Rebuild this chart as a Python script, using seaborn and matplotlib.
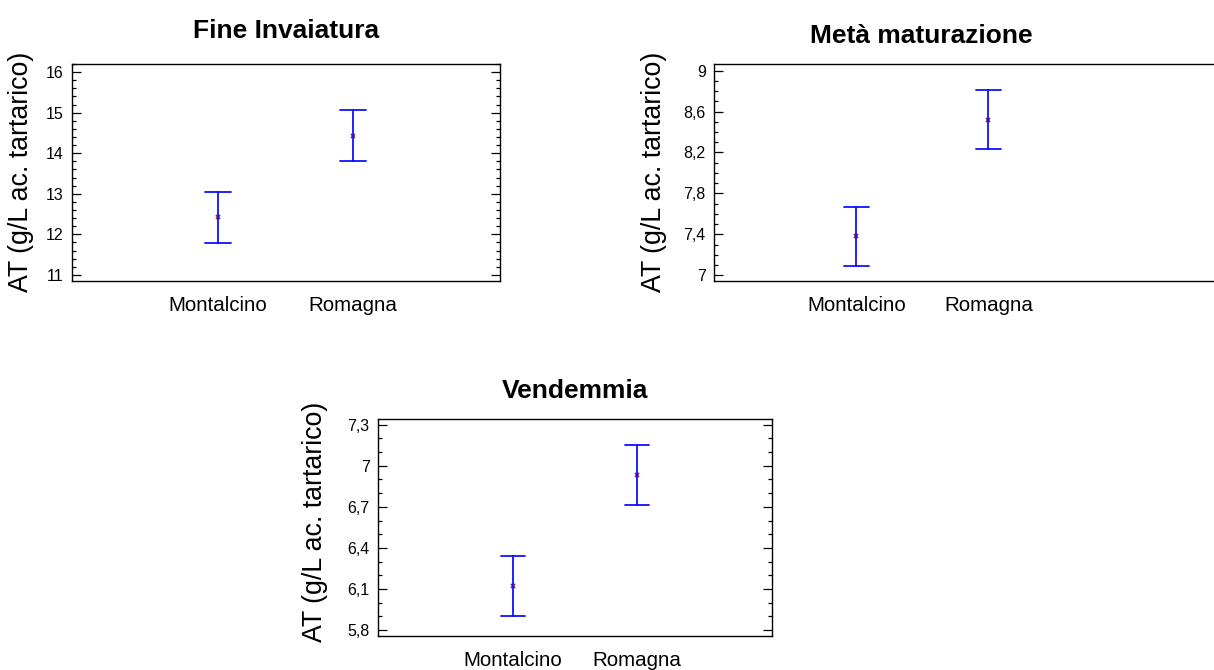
import matplotlib
matplotlib.use("Agg")
import matplotlib.pyplot as plt
from matplotlib.ticker import FixedLocator, MultipleLocator, FuncFormatter
import seaborn as sns
import pandas as pd

# ---- data ----
categories = ["Montalcino", "Romagna"]

fine_mean = [12.42, 14.43]
fine_lo = [11.79, 13.80]
fine_hi = [13.05, 15.06]

meta_mean = [7.38, 8.52]
meta_lo = [7.09, 8.23]
meta_hi = [7.67, 8.81]

vend_mean = [6.12, 6.93]
vend_lo = [5.90, 6.71]
vend_hi = [6.34, 7.15]

fine_ticks = [11, 12, 13, 14, 15, 16]
meta_ticks = [7.0, 7.4, 7.8, 8.2, 8.6, 9.0]
vend_ticks = [5.8, 6.1, 6.4, 6.7, 7.0, 7.3]

titles = ["Fine Invaiatura", "Metà maturazione", "Vendemmia"]
ylabel = "AT (g/L ac. tartarico)"

sns.set_style("white")
plt.rcParams["font.family"] = ["Liberation Sans", "DejaVu Sans"]
plt.rcParams["text.color"] = "black"
plt.rcParams["xtick.color"] = "black"
plt.rcParams["ytick.color"] = "black"
plt.rcParams["xtick.labelcolor"] = "black"
plt.rcParams["ytick.labelcolor"] = "black"

W, H = 1214, 670
fig = plt.figure(figsize=(W / 100, H / 100), dpi=100)


def frame(mean, lo, hi):
    rows = []
    for c, m, l, h in zip(categories, mean, lo, hi):
        for v in (l, m, h):
            rows.append({"site": c, "AT": v})
    return pd.DataFrame(rows)


def px_axes(left, top, right, bottom):
    return fig.add_axes([left / W, 1 - bottom / H, (right - left) / W, (bottom - top) / H])


panels = [
    dict(data=(fine_mean, fine_lo, fine_hi), ticks=fine_ticks, box=(72, 64, 500, 281),
         xlim=(-1.08, 2.09), ylim=(10.85, 16.2), minor=0.2, title_xy=(286, 38), ylab_xy=(21, 172)),
    dict(data=(meta_mean, meta_lo, meta_hi), ticks=meta_ticks, box=(714, 64, 1260, 281),
         xlim=(-1.08, 3.06), ylim=(6.944, 9.065), minor=0.1, title_xy=(921, 43), ylab_xy=(654, 172)),
    dict(data=(vend_mean, vend_lo, vend_hi), ticks=vend_ticks, box=(378, 419, 772, 636),
         xlim=(-1.085, 2.085), ylim=(5.756, 7.342), minor=0.1, title_xy=(575, 398), ylab_xy=(315, 522)),
]

fmt = FuncFormatter(lambda v, p: ("{:g}".format(round(v, 3))).replace(".", ","))

for p, title in zip(panels, titles):
    ax = px_axes(*p["box"])
    df = frame(*p["data"])
    sns.pointplot(data=df, x="site", y="AT", order=categories, estimator="median",
                  errorbar=("pi", 100), capsize=0.19, linestyle="none", markers="x",
                  color="#9b1f5a", markersize=3.5, markeredgewidth=1.3,
                  err_kws={"color": "#1010ff", "linewidth": 1.3}, ax=ax)
    ax.set_xlim(*p["xlim"])
    ax.set_ylim(*p["ylim"])
    ax.set_xlabel("")
    ax.set_ylabel("")
    ax.yaxis.set_major_locator(FixedLocator(p["ticks"]))
    ax.yaxis.set_minor_locator(MultipleLocator(p["minor"]))
    ax.yaxis.set_major_formatter(fmt)
    ax.tick_params(axis="y", which="both", direction="in", left=True, right=True,
                   color="black", width=0.9)
    ax.tick_params(axis="y", which="major", length=6.5, labelsize=11.5, pad=6)
    ax.tick_params(axis="y", which="minor", length=3)
    ax.tick_params(axis="x", length=0, pad=11, labelsize=14.8)
    for s in ax.spines.values():
        s.set_visible(True)
        s.set_color("black")
        s.set_linewidth(1.0)
    tx, ty = p["title_xy"]
    fig.text(tx / W, 1 - ty / H, title, ha="center", va="baseline",
             fontsize=19, fontweight="bold")
    lx, ly = p["ylab_xy"]
    fig.text(lx / W, 1 - ly / H, ylabel, rotation=90, ha="center", va="center",
             fontsize=19.3)

fig.savefig("out.png", dpi=100)
